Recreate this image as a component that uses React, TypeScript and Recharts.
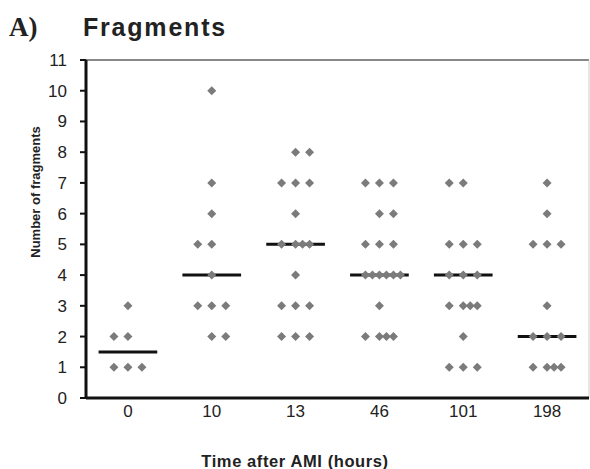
import { ScatterChart, Scatter, XAxis, YAxis, ReferenceLine } from "recharts";

// time points (hours after AMI)
const timeLabels = ["0", "10", "13", "46", "101", "198"];

// number of fragments per patient, one list per time point
const frag0 = [1, 1, 1, 2, 2, 3];
const frag10 = [2, 2, 3, 3, 3, 4, 5, 5, 6, 7, 10];
const frag13 = [2, 2, 2, 3, 3, 3, 4, 5, 5, 5, 5, 6, 7, 7, 7, 8, 8];
const frag46 = [2, 2, 2, 2, 3, 4, 4, 4, 4, 4, 4, 5, 5, 5, 6, 6, 7, 7, 7];
const frag101 = [1, 1, 1, 2, 3, 3, 3, 3, 4, 4, 4, 5, 5, 5, 7, 7];
const frag198 = [1, 1, 1, 1, 2, 2, 2, 3, 5, 5, 5, 6, 7];

const medians = [1.5, 4, 5, 4, 4, 2];

const yTicks = [0, 1, 2, 3, 4, 5, 6, 7, 8, 9, 10, 11];

// dot-plot jitter layout: rows with two dots that sit right of centre
const pairRight: Record<number, number[]> = { 1: [2], 2: [8], 3: [6] };

const STEP = 0.167;
const HALF = 0.35;

function slots(n: number, right: boolean) {
  if (n === 1) return [0];
  if (n === 2) return right ? [0, 1] : [-1, 0];
  if (n === 3) return [-1, 0, 1];
  if (n === 4) return [-1, 0, 0.5, 1];
  if (n === 5) return [-1, -0.5, 0, 0.5, 1];
  return [-1, -0.5, 0, 0.5, 1, 1.5];
}

function layout(values: number[], gi: number) {
  const counts = new Map<number, number>();
  values.forEach((v) => counts.set(v, (counts.get(v) || 0) + 1));
  const out: { x: number; y: number }[] = [];
  counts.forEach((n, v) => {
    const s = slots(n, (pairRight[gi] || []).includes(v));
    s.forEach((k) => out.push({ x: gi + k * STEP, y: v }));
  });
  return out;
}

const groups = [frag0, frag10, frag13, frag46, frag101, frag198];
const points = groups.flatMap((g, i) => layout(g, i));

const Diamond = (props: any) => {
  const { cx, cy } = props;
  const r = 4.5;
  return (
    <polygon
      points={`${cx},${cy - r} ${cx + r},${cy} ${cx},${cy + r} ${cx - r},${cy}`}
      fill="#7b7b7b"
    />
  );
};

const sans = "Liberation Sans, Arial, sans-serif";

export default function App() {
  return (
    <div style={{ position: "absolute", left: 0, top: 0, width: 590, height: 469, background: "#fff" }}>
      <ScatterChart width={590} height={469} margin={{ top: 60, right: 1, bottom: 0, left: 0 }}>
        <XAxis
          type="number"
          dataKey="x"
          domain={[-0.5, 5.5]}
          ticks={[0, 1, 2, 3, 4, 5]}
          tickFormatter={(v) => timeLabels[v]}
          height={71}
          tickSize={0}
          tickMargin={7}
          axisLine={{ stroke: "#111", strokeWidth: 3 }}
          tick={{ fill: "#222", fontSize: 17, fontFamily: sans }}
        />
        <YAxis
          type="number"
          dataKey="y"
          domain={[0, 11]}
          ticks={yTicks}
          width={86}
          tickSize={6}
          tickMargin={13}
          axisLine={{ stroke: "#111", strokeWidth: 3 }}
          tickLine={{ stroke: "#111", strokeWidth: 2 }}
          tick={{ fill: "#222", fontSize: 17, fontFamily: sans }}
        />
        <ReferenceLine y={11} stroke="#888" strokeWidth={2} ifOverflow="visible" />
        <ReferenceLine x={5.5} stroke="#ccc" strokeWidth={1} ifOverflow="visible" />
        {medians.map((m, i) => (
          <ReferenceLine
            key={i}
            segment={[{ x: i - HALF, y: m }, { x: i + HALF, y: m }]}
            stroke="#111"
            strokeWidth={3}
          />
        ))}
        <Scatter data={points} shape={Diamond} isAnimationActive={false} />
      </ScatterChart>
      <svg
        width={590}
        height={469}
        style={{ position: "absolute", left: 0, top: 0, pointerEvents: "none" }}
      >
        <text x={9} y={36} fontFamily="Liberation Serif, Times New Roman, serif" fontWeight="bold" fontSize={27} fill="#222">
          A)
        </text>
        <text x={83} y={36} fontFamily={sans} fontWeight="bold" fontSize={25} letterSpacing={1.8} fill="#222">
          Fragments
        </text>
        <text
          x={0}
          y={0}
          transform="translate(40,192) rotate(-90)"
          textAnchor="middle"
          fontFamily={sans}
          fontWeight="bold"
          fontSize={13}
          fill="#222"
        >
          Number of fragments
        </text>
        <text
          x={295}
          y={467}
          textAnchor="middle"
          fontFamily={sans}
          fontWeight="bold"
          fontSize={16.5}
          letterSpacing={0.6}
          fill="#222"
        >
          Time after AMI (hours)
        </text>
      </svg>
    </div>
  );
}
